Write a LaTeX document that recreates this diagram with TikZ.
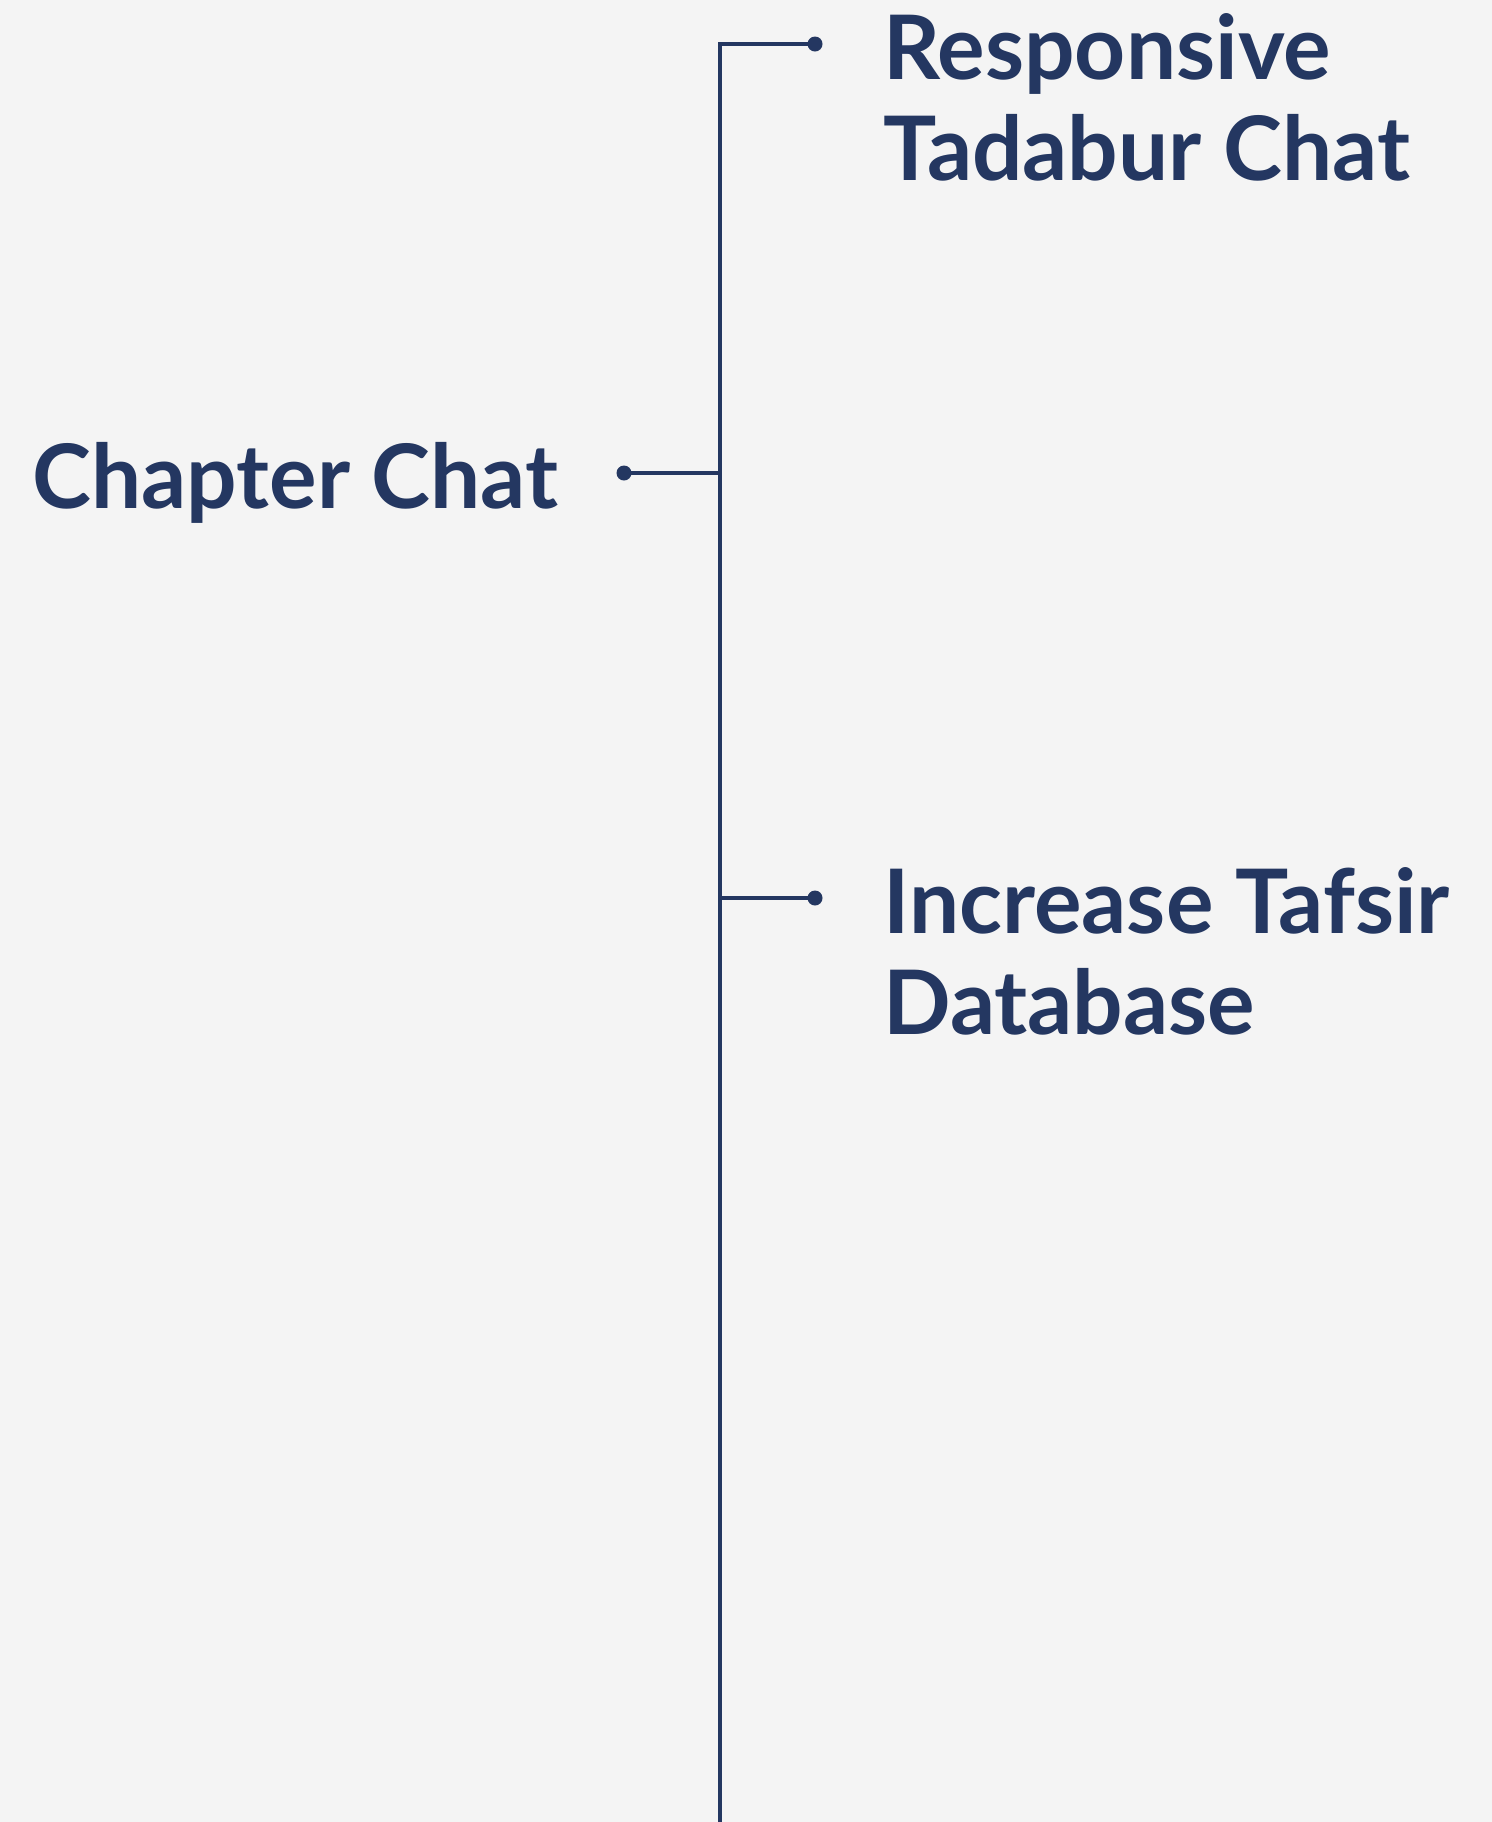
\documentclass[tikz,border=0pt]{standalone}
\usepackage{fontspec}
\setmainfont{Lato}
\definecolor{navy}{RGB}{36,55,97}
\definecolor{bg}{RGB}{244,244,244}
\tikzset{
  txt/.style={font=\fontsize{44.5}{50.5}\selectfont\bfseries, text=navy, inner sep=0pt, align=left, anchor=base west},
  dotnode/.style={circle, fill=navy, draw=none, inner sep=0pt, minimum size=7.5pt},
  conn/.style={draw=navy, line width=1.9pt}
}
\begin{document}
\begin{tikzpicture}[x=0.5pt,y=-0.5pt]
\useasboundingbox[fill=bg] (0,0) rectangle (1492,1822);
\node[txt] (resp) at (883,180) {Responsive\\Tadabur Chat};
\node[txt] (chap) at (32,508) {Chapter Chat};
\node[txt] (inc) at (883,1034) {Increase Tafsir\\Database};
\node[dotnode] (d1) at (815,44) {};
\node[dotnode] (d2) at (624,473) {};
\node[dotnode] (d3) at (815,898) {};
\coordinate (j1) at (720,44);
\coordinate (j2) at (720,473);
\coordinate (j3) at (720,898);
\coordinate (jb) at (720,1822);
\draw[conn] (d1.center) -- (j1) -- (jb);
\draw[conn] (d2.center) -- (j2);
\draw[conn] (j3) -- (d3.center);
\end{tikzpicture}
\end{document}
